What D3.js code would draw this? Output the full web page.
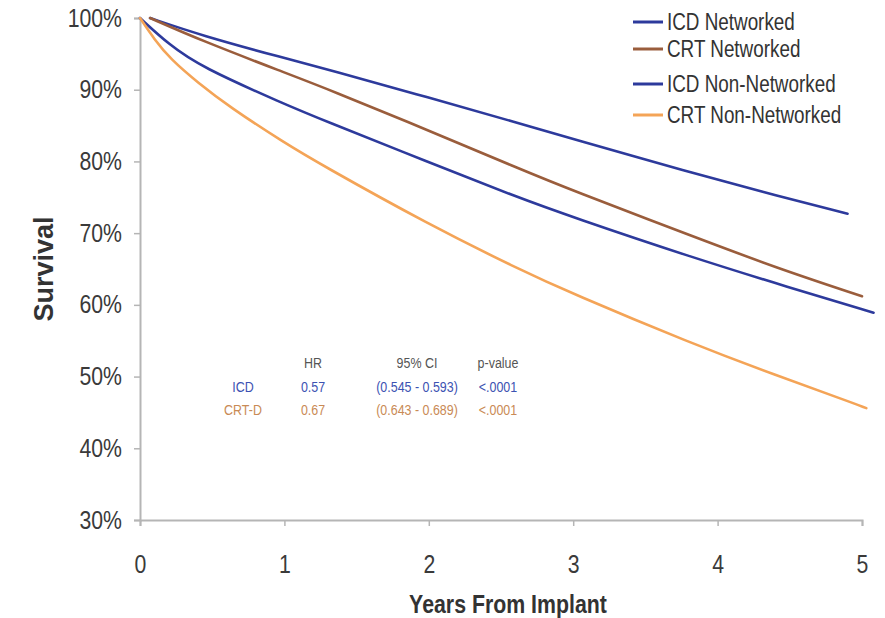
<!DOCTYPE html>
<html>
<head>
<meta charset="utf-8">
<script src="https://cdn.jsdelivr.net/npm/d3@7"></script>
<style>
  body { margin: 0; background: #fff; }
  svg text { font-family: "Liberation Sans", Arial, sans-serif; }
</style>
</head>
<body>
<div id="chart"></div>
<script>
// survival curves: [years, survival %]
const icdNetworked = [
  [0.07, 100], [0.42, 97.6], [1.0, 94.4], [1.32, 92.7], [2.0, 88.9],
  [2.63, 85.3], [3.0, 83.1], [3.81, 78.5], [4.3, 75.8], [4.9, 72.7],
];
const crtNetworked = [
  [0.07, 100], [0.42, 96.9], [1.0, 92.4], [1.3, 90.1], [2.0, 84.3],
  [2.6, 79.2], [3.0, 75.9], [3.81, 69.7], [4.4, 65.2], [5.0, 61.2],
];
const icdNonNetworked = [
  [0, 100], [0.2, 96.3], [0.42, 93.2], [1.0, 88.0], [1.25, 85.9], [2.0, 79.9],
  [2.6, 75.1], [3.0, 72.2], [3.81, 66.7], [4.5, 62.4], [5.08, 58.9],
];
const crtNonNetworked = [
  [0, 100], [0.1, 97.0], [0.21, 94.3], [0.4, 91.0], [0.62, 87.6], [1.0, 82.6],
  [1.25, 79.6], [2.0, 71.2], [2.6, 65.2], [3.0, 61.5], [3.81, 54.7],
  [4.4, 50.2], [4.9, 46.6], [5.03, 45.6],
];

const seriesNames = ["ICD Networked", "CRT Networked", "ICD Non-Networked", "CRT Non-Networked"];
const seriesColors = ["#2d3a9c", "#9a5d3c", "#2d3a9c", "#f4a457"];
const seriesData = [icdNetworked, crtNetworked, icdNonNetworked, crtNonNetworked];

const xTicks = [0, 1, 2, 3, 4, 5];
const yTicks = [30, 40, 50, 60, 70, 80, 90, 100];

// hazard ratio table
const tableHeader = ["", "HR", "95% CI", "p-value"];
const tableRows = [
  ["ICD", "0.57", "(0.545 - 0.593)", "<.0001"],
  ["CRT-D", "0.67", "(0.643 - 0.689)", "<.0001"],
];
const tableColors = ["#3c52b2", "#c98a55"];

const width = 885, height = 618;
const margin = { top: 18, right: 23, bottom: 98, left: 140 };

// the original type is a condensed sans; squeeze Liberation Sans horizontally
const SQ = 0.85;
function squeeze(sel, sx = SQ) {
  sel.each(function () {
    const t = d3.select(this);
    const tx = +t.attr("x") || 0, ty = +t.attr("y") || 0;
    t.attr("x", 0).attr("y", 0)
      .attr("transform", `translate(${tx},${ty}) scale(${sx},1)`);
  });
}

const svg = d3.select("#chart").append("svg")
  .attr("width", width)
  .attr("height", height);

const x = d3.scaleLinear().domain([0, 5]).range([margin.left, width - margin.right]);
const y = d3.scaleLinear().domain([30, 100]).range([height - margin.bottom, margin.top]);

// axes
const axisColor = "#b5b5b5";
const gx = svg.append("g")
  .attr("transform", `translate(0,${y(30)})`)
  .call(d3.axisBottom(x).tickValues(xTicks).tickSize(6).tickPadding(29).tickFormat(d3.format("d")));
const gy = svg.append("g")
  .attr("transform", `translate(${x(0)},0)`)
  .call(d3.axisLeft(y).tickValues(yTicks).tickSize(6).tickPadding(12).tickFormat((d) => d + "%"));

for (const g of [gx, gy]) {
  g.select(".domain").attr("stroke", axisColor).attr("stroke-width", 2);
  g.selectAll(".tick line").attr("stroke", axisColor).attr("stroke-width", 1.5);
  g.selectAll(".tick text")
    .attr("fill", "#3a3a3a")
    .style("font-size", "25px")
    .call(squeeze);
}

// axis titles
svg.append("text")
  .attr("x", 508).attr("y", 613)
  .attr("text-anchor", "middle")
  .attr("fill", "#333")
  .style("font-size", "26px").style("font-weight", "bold")
  .text("Years From Implant")
  .call(squeeze, 0.82);

svg.append("text")
  .attr("transform", "translate(53,269) rotate(-90)")
  .attr("text-anchor", "middle")
  .attr("fill", "#333")
  .style("font-size", "27px").style("font-weight", "bold")
  .text("Survival");

// curves
const line = d3.line()
  .x((d) => x(d[0]))
  .y((d) => y(d[1]))
  .curve(d3.curveBasis);

svg.append("g")
  .selectAll("path")
  .data(seriesData)
  .join("path")
  .attr("fill", "none")
  .attr("stroke", (d, i) => seriesColors[i])
  .attr("stroke-width", 2.6)
  .attr("stroke-linecap", "round")
  .attr("d", line);

// legend
const legendY = [22, 49, 84, 115];
const legend = svg.append("g")
  .selectAll("g")
  .data(seriesNames)
  .join("g")
  .attr("transform", (d, i) => `translate(633,${legendY[i]})`);
legend.append("line")
  .attr("x1", 0).attr("x2", 30)
  .attr("stroke", (d, i) => seriesColors[i])
  .attr("stroke-width", 3);
legend.append("text")
  .attr("x", 34).attr("dy", "0.35em")
  .attr("fill", "#333")
  .style("font-size", "23px")
  .text((d) => d)
  .call(squeeze, 0.82);

// HR table
const colX = [243, 313, 417, 498];
const table = svg.append("g").style("font-size", "15px").attr("text-anchor", "middle");
table.selectAll("text.head")
  .data(tableHeader)
  .join("text")
  .attr("class", "head")
  .attr("x", (d, i) => colX[i])
  .attr("y", 363).attr("dy", "0.35em")
  .attr("fill", "#555")
  .text((d) => d)
  .call(squeeze, 0.83);
tableRows.forEach((row, r) => {
  table.selectAll(`text.row${r}`)
    .data(row)
    .join("text")
    .attr("class", `row${r}`)
    .attr("x", (d, i) => colX[i])
    .attr("y", 387 + r * 23).attr("dy", "0.35em")
    .attr("fill", tableColors[r])
    .text((d) => d)
    .call(squeeze, 0.83);
});
</script>
</body>
</html>
